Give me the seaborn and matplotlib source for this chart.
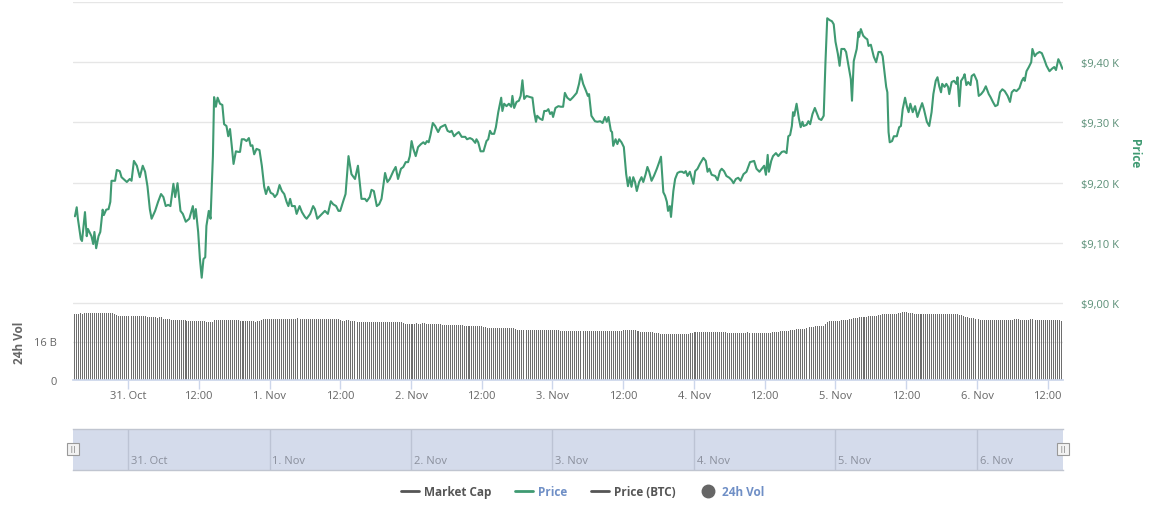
import numpy as np
import pandas as pd
import matplotlib
matplotlib.use("Agg")
import matplotlib.pyplot as plt
from matplotlib.lines import Line2D
import seaborn as sns

# ---------------- data ----------------
# price: hours since 30 Oct 00:00, USD
price_hours = [
    15.0, 15.3, 15.5, 16.0, 16.2, 16.7, 17.0, 17.2, 17.8, 18.1, 18.3, 18.6, 19.0, 19.3, 19.7, 19.9,
    20.3, 20.7, 21.0, 21.2, 21.8, 22.1, 22.6, 22.9, 23.8, 24.3, 24.6, 25.0, 25.5, 26.0, 26.5, 26.9,
    27.3, 27.7, 28.0, 28.6, 29.1, 29.6, 30.0, 30.4, 30.8, 31.2, 31.7, 32.0, 32.4, 32.9, 33.3, 33.8,
    34.4, 35.0, 35.2, 35.5, 35.9, 36.2, 36.5, 36.8, 37.1, 37.3, 37.7, 38.0, 38.4, 38.6, 38.9, 39.2,
    39.6, 40.0, 40.3, 40.7, 41.0, 41.3, 41.6, 41.9, 42.3, 42.7, 43.0, 43.3, 43.7, 44.1, 44.5, 44.8,
    45.1, 45.4, 45.8, 46.3, 46.7, 47.1, 47.4, 47.8, 48.2, 48.6, 48.9, 49.3, 49.7, 50.1, 50.5, 50.9,
    51.2, 51.5, 51.8, 52.3, 52.6, 53.1, 53.5, 54.0, 54.3, 54.9, 55.4, 55.7, 56.1, 56.9, 57.4, 57.9,
    58.4, 58.8, 59.3, 59.7, 60.0, 60.5, 60.9, 61.4, 61.9, 62.5, 63.0, 63.3,
    63.6, 64.2, 64.5, 65.0, 65.3, 65.7, 66.2, 66.6, 67.0, 67.6, 68.0, 68.4, 69.0, 69.4, 69.8, 70.3,
    70.7, 71.1, 71.5, 71.8, 72.1, 72.4, 72.8, 73.2, 73.7, 74.1, 74.4, 74.7, 75.0, 75.3, 75.7, 76.1,
    76.6, 77.0, 77.8, 78.2, 78.6, 78.9, 79.3, 79.7, 80.1, 80.6, 81.2, 81.5, 82.0, 82.4, 82.9, 83.1,
    83.4, 83.8, 84.3, 84.5, 84.8, 85.1, 85.4, 85.7, 86.1, 86.4, 86.8, 87.3, 87.5, 87.8, 88.2, 88.6,
    89.0, 89.2, 89.5, 89.9, 90.3, 90.6, 90.9, 91.2, 91.6, 92.2, 92.6, 92.9, 93.2, 93.4, 93.9, 94.3,
    94.6, 95.0, 95.3, 95.6, 95.9, 96.1, 96.5, 97.0, 97.4, 97.8, 98.1, 98.5, 99.0, 99.5, 100.1, 100.5,
    100.8, 101.2, 101.7, 102.0, 102.2, 102.6, 103.2, 103.6, 104.1, 104.5, 104.9, 105.2, 105.5, 105.9,
    106.1, 106.3, 106.7, 107.0, 107.3, 107.7, 108.1, 108.5, 108.8, 109.1, 109.4, 109.7, 110.0, 110.3,
    110.7, 111.1, 111.4, 111.8, 112.1, 112.4, 112.8, 113.2, 113.7, 114.1, 114.4, 114.8, 115.1, 115.4,
    115.6, 115.9, 116.1, 116.5, 116.8, 117.2, 117.6, 118.0, 118.3, 118.6, 118.9, 119.3, 119.9, 120.2,
    120.6, 121.0, 121.6, 122.0, 122.3, 122.6, 123.0, 123.6, 124.0, 124.4, 124.7, 125.1, 125.5, 126.0,
    126.4, 126.7, 127.1, 127.5, 127.9, 128.4, 128.9, 129.5, 130.2, 130.6, 131.1, 131.5, 131.9, 132.2,
    132.5, 132.7, 133.1, 133.4, 133.9, 134.3, 134.9, 135.3, 135.7, 136.0, 136.3, 136.6, 136.8, 137.0,
    137.4, 137.8, 138.1, 138.4, 138.6, 139.1, 139.4, 139.7, 140.1, 140.5, 140.9, 141.2, 141.6, 142.0,
    142.3, 142.6, 143.0, 143.4, 143.7, 144.0, 144.4, 144.7, 145.0, 145.5, 145.8, 146.2, 146.6, 146.8,
    147.1, 147.6, 147.9, 148.0, 148.3, 148.7, 149.1, 149.4, 149.6, 150.0, 150.3, 150.5, 150.9, 151.3,
    151.7, 152.0, 152.3, 152.6, 152.8, 153.0, 153.2, 153.6, 153.9, 154.4, 154.8, 155.1, 155.4, 155.8,
    156.1, 156.4, 156.7, 157.1, 157.5, 157.9, 158.3, 158.7, 159.0, 159.5, 159.9, 160.3, 160.6, 161.0,
    161.3, 161.6, 161.9, 162.1, 162.5, 162.8, 163.1, 163.3, 163.7, 164.1, 164.5, 164.7, 165.0, 165.3,
    165.7, 165.9, 166.2, 166.5, 166.9, 167.1, 167.5, 168.0, 168.3, 168.7, 169.1, 169.5, 170.0, 170.3,
    170.7, 171.1, 171.5, 171.9, 172.3, 172.7, 173.2, 173.6, 173.9, 174.3, 174.7, 175.2, 175.6, 175.9,
    176.1, 176.4, 176.8, 177.2, 177.4, 177.8, 178.1, 178.6, 179.0, 179.4, 179.8, 180.3, 180.7, 181.1,
    181.4, 181.8, 182.1, 182.5,
]
price_usd = [
    9144, 9159, 9140, 9106, 9103, 9151, 9111, 9123, 9111, 9098, 9118, 9091, 9111, 9118, 9155, 9146,
    9155, 9156, 9168, 9203, 9203, 9221, 9219, 9209, 9201, 9206, 9203, 9236, 9228, 9209, 9228, 9218,
    9194, 9156, 9140, 9153, 9168, 9181, 9176, 9161, 9163, 9161, 9198, 9176, 9199, 9153, 9148, 9135,
    9140, 9161, 9140, 9156, 9118, 9073, 9042, 9073, 9076, 9128, 9153, 9140, 9244, 9342, 9326, 9341,
    9331, 9329, 9297, 9294, 9277, 9289, 9261, 9231, 9252, 9251, 9251, 9272, 9272, 9269, 9274, 9261,
    9262, 9247, 9256, 9254, 9228, 9193, 9181, 9193, 9183, 9181, 9176, 9181, 9196, 9186, 9181, 9168,
    9161, 9173, 9161, 9161, 9148, 9161, 9151, 9143, 9140, 9148, 9161, 9156, 9140, 9148, 9153, 9148,
    9169, 9164, 9161, 9153, 9153, 9169, 9181, 9244, 9214, 9206, 9228, 9200,
    9173, 9173, 9169, 9176, 9188, 9186, 9161, 9164, 9173, 9216, 9201, 9206, 9219, 9226, 9206, 9223,
    9226, 9234, 9234, 9244, 9269, 9256, 9244, 9259, 9264, 9267, 9264, 9269, 9267, 9279, 9299, 9294,
    9284, 9292, 9296, 9286, 9284, 9286, 9277, 9281, 9284, 9276, 9276, 9272, 9274, 9272, 9266, 9272,
    9267, 9252, 9252, 9259, 9269, 9272, 9286, 9281, 9281, 9292, 9317, 9341, 9319, 9331, 9327, 9331,
    9326, 9344, 9324, 9334, 9336, 9344, 9370, 9339, 9344, 9342, 9341, 9317, 9301, 9311, 9306, 9304,
    9319, 9319, 9322, 9314, 9317, 9309, 9324, 9327, 9326, 9326, 9349, 9341, 9337, 9342, 9349, 9364,
    9380, 9364, 9352, 9344, 9347, 9311, 9302, 9301, 9302, 9299, 9309, 9301, 9309, 9286,
    9284, 9261, 9272, 9264, 9272, 9267, 9259, 9214, 9194, 9209, 9193, 9209, 9201, 9186,
    9201, 9209, 9201, 9214, 9226, 9218, 9203, 9211, 9223, 9234, 9243, 9184, 9178, 9168,
    9153, 9161, 9143, 9186, 9206, 9216, 9218, 9218, 9216, 9219, 9211, 9218, 9198, 9219,
    9223, 9231, 9241, 9236, 9218, 9223, 9213, 9211, 9204, 9219, 9223, 9219, 9211, 9208,
    9204, 9199, 9206, 9208, 9203, 9214, 9218, 9234, 9236, 9223, 9218, 9223, 9228, 9213,
    9246, 9218, 9236, 9244, 9249, 9244, 9251, 9252, 9249, 9277, 9279, 9294, 9317, 9311,
    9331, 9306, 9292, 9301, 9294, 9296, 9302, 9297, 9314, 9324, 9314, 9306, 9304, 9311,
    9400, 9473, 9470, 9468, 9463, 9434, 9414, 9394, 9422, 9422, 9417, 9394, 9372, 9336,
    9402, 9422, 9450, 9442, 9455, 9444, 9440, 9438, 9427, 9429, 9417, 9409, 9400, 9417,
    9417, 9410, 9385, 9359, 9350, 9284, 9267, 9269, 9277, 9277, 9292, 9294, 9322, 9341,
    9327, 9317, 9331, 9317, 9327, 9309, 9321, 9332, 9322, 9301, 9294, 9317, 9347, 9369,
    9375, 9360, 9350, 9364, 9359, 9364, 9359, 9347, 9367, 9369, 9364, 9375, 9327, 9369,
    9375, 9380, 9362, 9367, 9362, 9377, 9380, 9369, 9344, 9347, 9352, 9360, 9347, 9342,
    9334, 9327, 9329, 9350, 9355, 9352, 9344, 9334, 9350, 9354, 9352, 9357, 9369, 9374,
    9369, 9385, 9392, 9400, 9422, 9410, 9414, 9417, 9415, 9405, 9394, 9385, 9389, 9392,
    9387, 9405, 9399, 9389,
]

# 24h volume (billion USD), one bar every 20 minutes from 30 Oct 14:40
vol_start_hour = 14.67
vol_step_hours = 1 / 3
volume_b = [
    27.4, 27.4, 27.5, 27.5, 27.9, 27.6,
    27.8, 27.9, 28.0, 27.9, 27.9, 27.9, 27.9, 27.9, 27.9, 27.9, 27.9, 27.9, 27.9, 27.9, 27.9, 27.6,
    27.1,
    26.7, 26.6, 26.5, 26.7, 26.8, 26.5, 26.3, 26.6, 26.8, 26.8, 26.8, 26.7, 26.8, 26.6, 26.4,
    26.0, 26.1, 26.0, 26.0, 26.0, 25.9, 26.0, 26.0,
    25.5, 25.4, 25.4, 25.2,
    25.0, 24.9, 25.1, 25.0, 24.9, 25.0, 25.0, 24.8,
    24.6, 24.6, 24.5, 24.6, 24.6, 24.6, 24.6, 24.5, 24.6, 24.6,
    24.2, 24.1, 24.1, 24.2,
    24.8, 25.0, 25.1, 24.9, 25.0, 25.0, 25.0, 24.9, 25.0, 25.0, 24.9, 25.0, 24.9,
    24.6, 24.6, 24.7, 24.6, 24.6, 24.5, 24.6, 24.5, 24.3, 24.4, 24.6, 24.9,
    25.3, 25.5, 25.5, 25.5, 25.4, 25.4, 25.2, 25.2, 25.2, 25.5, 25.5, 25.5, 25.5, 25.3, 25.2, 25.2,
    25.4, 25.6, 25.6,
    25.4, 25.3, 25.3, 25.3, 25.4, 25.3, 25.3, 25.3, 25.2, 25.5, 25.5, 25.5, 25.4, 25.3, 25.3, 25.2,
    25.2, 25.3, 25.3, 25.2,
    24.9, 24.7, 24.7, 24.9, 25.0, 24.6, 24.4, 24.4, 24.3,
    24.1, 24.1, 24.0, 24.1, 24.1, 24.0, 24.0, 24.0, 24.0, 24.0, 24.0, 24.0, 24.0, 24.0, 24.0, 24.0,
    24.0, 24.0, 24.0, 24.0, 24.0, 24.0, 24.1,
    23.5, 23.4, 23.4, 23.4, 23.3, 23.3, 23.4, 23.5, 23.4, 23.4, 23.5, 23.5, 23.4, 23.4, 23.4, 23.4,
    23.3, 23.3, 23.3, 23.3,
    22.9, 22.8, 22.8, 22.8, 22.8, 22.8, 22.8, 22.7, 22.7, 22.7, 22.7, 22.6, 22.6, 22.6, 22.6, 22.6,
    22.6, 22.5, 22.5, 22.5, 22.3, 22.2, 22.0,
    21.7, 21.6, 21.7, 21.7, 21.7, 21.7, 21.7, 21.7, 21.7, 21.7, 21.7, 21.7, 21.6, 21.5, 21.3,
    20.9, 20.9, 20.9, 20.9, 20.9, 20.9, 20.9, 20.9, 20.9, 20.9, 20.9, 20.9, 20.9, 20.9, 20.9, 20.9,
    20.9, 20.9, 20.9, 20.8, 20.8, 20.6, 20.5, 20.5,
    20.2, 20.2, 20.2, 20.2, 20.2, 20.2, 20.2, 20.2, 20.2, 20.2, 20.2, 20.2, 20.3, 20.2, 20.3, 20.3,
    20.2, 20.4, 20.3, 20.4, 20.4, 20.4, 20.4, 20.4, 20.4, 20.4, 20.4, 20.4, 20.5, 20.5,
    20.8, 20.8, 20.9, 20.8, 20.8, 20.7, 20.6, 20.4, 20.2,
    20.1, 20.1, 20.1, 20.0, 20.0, 19.9, 19.8, 19.6, 19.5, 19.4,
    19.3, 19.3, 19.3, 19.3, 19.3, 19.3, 19.3, 19.3, 19.3, 19.3, 19.3, 19.3, 19.3, 19.3, 19.3, 19.4,
    19.5,
    19.8, 19.9, 20.0, 20.0, 20.0, 20.0, 20.0, 20.0, 20.0, 20.0, 20.0, 20.0, 20.0, 20.0, 20.0, 19.8,
    19.8,
    19.7, 19.6, 19.6, 19.6, 19.6, 19.6, 19.6, 19.6, 19.7, 19.7, 19.8, 19.6, 19.6, 19.6, 19.6, 19.6,
    19.6, 19.6, 19.6, 19.6, 19.6, 19.6, 19.7,
    19.9, 19.9, 20.0, 20.1, 20.2, 20.3, 20.3, 20.4, 20.5, 20.6, 20.8, 20.9, 21.0, 21.1, 21.2, 21.3,
    21.4, 21.6,
    21.9, 22.0, 22.1, 22.2, 22.3, 22.3, 22.4, 22.5, 22.6, 23.3,
    24.2, 24.4, 24.5, 24.5, 24.6, 24.6, 24.7, 24.8, 24.8, 25.0, 25.1, 25.3, 25.5,
    25.7, 25.8, 25.9, 26.0, 26.1, 26.2, 26.2, 26.3, 26.4, 26.5, 26.6, 26.7, 26.8, 27.0, 27.2,
    27.3, 27.4, 27.4, 27.4, 27.4, 27.5, 27.5, 27.6, 27.8, 27.9,
    28.2, 28.3, 28.2, 28.0,
    27.8, 27.7, 27.6, 27.6, 27.5, 27.5, 27.5, 27.6, 27.5, 27.5, 27.6, 27.6, 27.6, 27.5, 27.5, 27.4,
    27.5, 27.5, 27.5, 27.5, 27.5, 27.4, 27.3, 27.5, 27.4, 27.2, 27.0, 26.6, 26.3,
    26.0, 25.8, 25.7, 25.6, 25.5, 25.4, 25.2,
    25.0, 25.0, 25.0, 25.0, 25.0, 25.0, 25.0, 25.0, 25.0, 25.0, 25.0, 25.0, 25.0, 25.1, 25.1, 25.1,
    25.1, 25.2, 25.2, 25.2, 25.1, 25.0, 25.0, 25.0, 25.0, 25.2, 25.2, 25.2, 25.0, 25.0, 24.9, 24.9,
    25.0, 25.0, 25.0, 25.0, 25.1, 25.1, 25.0, 24.9, 24.8,
    24.4,
]

# axes / ticks
x_range_hours = [14.67, 182.59]
date_tick_hours = [24, 36, 48, 60, 72, 84, 96, 108, 120, 132, 144, 156, 168, 180]
date_tick_labels = ["31. Oct", "12:00", "1. Nov", "12:00", "2. Nov", "12:00", "3. Nov",
                    "12:00", "4. Nov", "12:00", "5. Nov", "12:00", "6. Nov", "12:00"]
nav_tick_hours = [24, 48, 72, 96, 120, 144, 168]
nav_tick_labels = ["31. Oct", "1. Nov", "2. Nov", "3. Nov", "4. Nov", "5. Nov", "6. Nov"]
price_ticks = [9000, 9100, 9200, 9300, 9400, 9500]
price_tick_labels = ["$9,00 K", "$9,10 K", "$9,20 K", "$9,30 K", "$9,40 K", ""]
vol_ticks = [0, 16, 32]
vol_tick_labels = ["0", "16 B", ""]
legend_labels = ["Market Cap", "Price", "Price (BTC)", "24h Vol"]

# ---------------- style ----------------
sns.set_theme(style="white")
plt.rcParams["font.family"] = ["Open Sans", "DejaVu Sans"]

GREEN = "#3f9a72"
GRID = "#e6e6e6"
AXIS = "#ccd6eb"
TXT = "#666666"
BAR = "#6e6e6e"
BLUE = "#6f8fc6"

W, H = 1164, 506
fig = plt.figure(figsize=(W / 100, H / 100), dpi=100)
L, R = 73, 1063
ax_p = fig.add_axes([L / W, 1 - 304 / H, (R - L) / W, 301 / H])
ax_v = fig.add_axes([L / W, 1 - 381 / H, (R - L) / W, 77 / H])
ax_n = fig.add_axes([L / W, 1 - 471 / H, (R - L) / W, 41 / H])

# ---- price ----
price_df = pd.DataFrame({"hour": price_hours, "price": price_usd})
sns.lineplot(data=price_df, x="hour", y="price", ax=ax_p, color=GREEN, linewidth=1.5)
ax_p.set_xlim(*x_range_hours)
ax_p.set_ylim(price_ticks[0], price_ticks[-1])
ax_p.set_yticks(price_ticks)
ax_p.set_yticklabels(price_tick_labels)
ax_p.yaxis.tick_right()
ax_p.tick_params(axis="y", right=False, left=False, labelright=True, labelleft=False,
                 labelsize=8, labelcolor="#5b8f77", pad=7)
ax_p.set_xticks([])
ax_p.set_xlabel("")
ax_p.grid(axis="y", color=GRID, linewidth=1)
ax_p.set_axisbelow(True)
for s in ax_p.spines.values():
    s.set_visible(False)
ax_p.set_ylabel("Price", rotation=270, color=GREEN, fontsize=8.5, fontweight="bold")
ax_p.yaxis.set_label_position("right")
ax_p.yaxis.set_label_coords(1 + (1141 - R) / (R - L), 0.5)

# ---- volume ----
vol_times = vol_start_hour + np.arange(len(volume_b)) * vol_step_hours
vol_df = pd.DataFrame({"hour": vol_times, "vol": volume_b})
sns.barplot(data=vol_df, x="hour", y="vol", ax=ax_v, native_scale=True, color=BAR,
            saturation=1, width=0.5, errorbar=None, linewidth=0)
for patch in ax_v.patches:
    patch.set_antialiased(False)
ax_v.set_xlim(*x_range_hours)
ax_v.set_ylim(vol_ticks[0], vol_ticks[-1])
ax_v.set_yticks(vol_ticks)
ax_v.set_yticklabels(vol_tick_labels)
ax_v.tick_params(axis="y", left=False, labelsize=8, labelcolor=TXT, pad=5.5)
ax_v.grid(axis="y", color=GRID, linewidth=1)
ax_v.set_axisbelow(True)
ax_v.set_xticks(date_tick_hours)
ax_v.set_xticklabels(date_tick_labels)
ax_v.tick_params(axis="x", bottom=True, length=6.5, width=1, color=AXIS, labelsize=8,
                 labelcolor=TXT, pad=0.5)
for k, s in ax_v.spines.items():
    s.set_visible(k == "bottom")
ax_v.spines["bottom"].set_color(AXIS)
ax_v.set_ylabel("24h Vol", color=TXT, fontsize=8.5, fontweight="bold")
ax_v.yaxis.set_label_coords((26 - L) / (R - L), 0.5)
ax_v.set_xlabel("")

# ---- navigator ----
ax_n.set_facecolor("#d4dbeb")
ax_n.set_xlim(*x_range_hours)
ax_n.set_ylim(0, 1)
ax_n.set_yticks([])
ax_n.set_xticks(nav_tick_hours)
ax_n.set_xticklabels([])
ax_n.tick_params(axis="x", length=0)
ax_n.grid(axis="x", color="#bcc3d4", linewidth=1)
for k, s in ax_n.spines.items():
    s.set_color("#c0c5d0")
    s.set_linewidth(1)
    s.set_visible(k in ("top", "bottom"))
for t, lab in zip(nav_tick_hours, nav_tick_labels):
    ax_n.text(t + 0.5, 0.22, lab, fontsize=8, color="#8a8f9c", ha="left", va="center")
for xa in (0, 1):
    ax_n.text(xa, 0.52, "||", transform=ax_n.transAxes, ha="center", va="center",
              fontsize=5, color="#555555",
              bbox=dict(boxstyle="square,pad=0.35", fc="#f2f2f2", ec="#999999", lw=0.8),
              clip_on=False, zorder=5)

# ---- legend ----
handles = [
    Line2D([], [], color="#555555", lw=2),
    Line2D([], [], color=GREEN, lw=2),
    Line2D([], [], color="#555555", lw=2),
    Line2D([], [], color="#666666", marker="o", markersize=9, lw=0),
]
leg = fig.legend(handles, legend_labels, loc="center", bbox_to_anchor=(583 / W, 1 - 493 / H),
                 ncol=4, frameon=False, handlelength=1.5, columnspacing=2.0,
                 handletextpad=0.45, prop={"weight": "bold", "size": 8.5})
for txt, col in zip(leg.get_texts(), ["#555555", BLUE, "#555555", BLUE]):
    txt.set_color(col)

fig.savefig("out.png", dpi=100, facecolor="white")
